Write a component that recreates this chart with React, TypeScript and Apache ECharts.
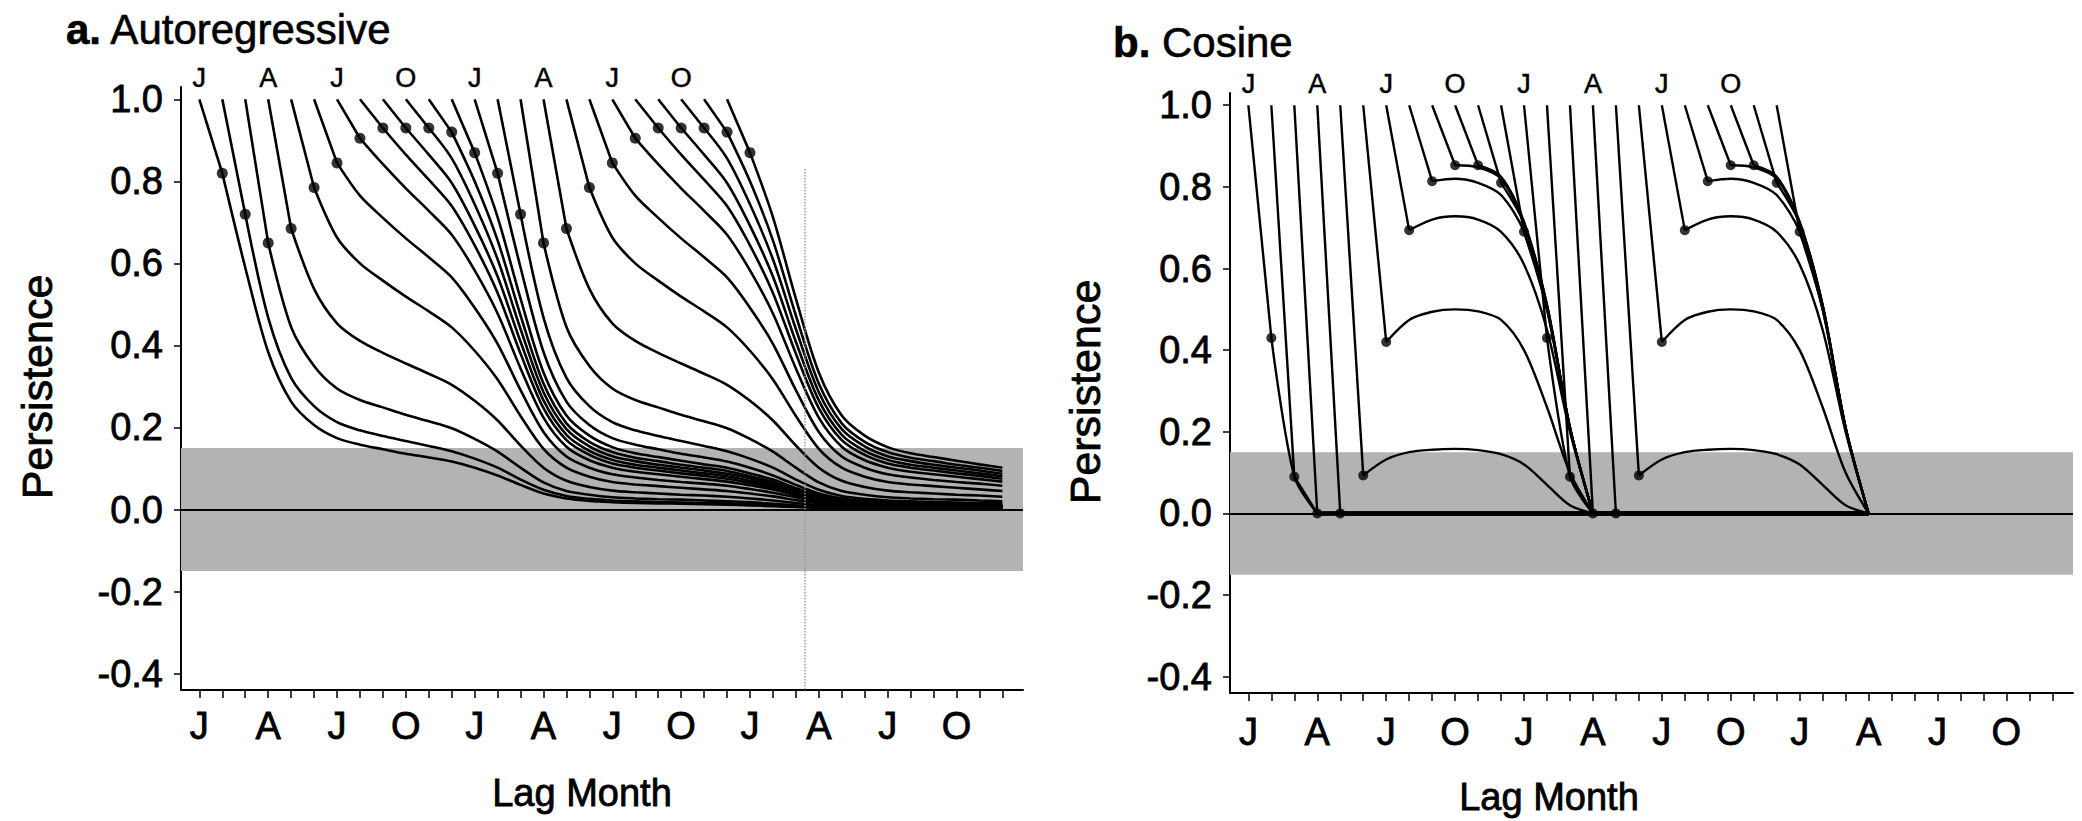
import React, { useEffect, useRef } from "react";
import * as echarts from "echarts";

// ---------- axis / label data ----------
const monthTicks = [1, 2, 3, 4, 5, 6, 7, 8, 9, 10, 11, 12, 13, 14, 15, 16, 17, 18, 19, 20, 21, 22, 23, 24, 25, 26, 27, 28, 29, 30, 31, 32, 33, 34, 35, 36];
const bottomTickMonths = [1, 4, 7, 10, 13, 16, 19, 22, 25, 28, 31, 34];
const bottomTickLabels = ["J", "A", "J", "O", "J", "A", "J", "O", "J", "A", "J", "O"];
const startLabelMonths = [1, 4, 7, 10, 13, 16, 19, 22];
const startLabels = ["J", "A", "J", "O", "J", "A", "J", "O"];
const yTickValues = [-0.4, -0.2, 0, 0.2, 0.4, 0.6, 0.8, 1.0];
const curveStartMonths = [1, 2, 3, 4, 5, 6, 7, 8, 9, 10, 11, 12, 13, 14, 15, 16, 17, 18, 19, 20, 21, 22, 23, 24];
const noiseBand = [-0.15, 0.15];
const arLastMonth = 36;
const cosLastMonth = 28;
const scanMarkMonth = 27.4;

// ---------- panel a: autoregressive persistence, by start month (lag 0, 1, 2, ...) ----------
const arJan = [1, 0.82, 0.59, 0.384, 0.263, 0.206, 0.174, 0.158, 0.147, 0.136, 0.127, 0.117, 0.102, 0.083, 0.06, 0.039, 0.027, 0.021, 0.018, 0.016, 0.015, 0.014, 0.013, 0.012, 0.01, 0.008, 0.006, 0.004, 0.003, 0.002, 0.002, 0.002, 0.001, 0.001, 0.001, 0.001];
const arFeb = [1, 0.72, 0.468, 0.321, 0.252, 0.213, 0.193, 0.179, 0.167, 0.155, 0.142, 0.124, 0.102, 0.073, 0.048, 0.033, 0.026, 0.022, 0.02, 0.018, 0.017, 0.016, 0.015, 0.013, 0.01, 0.007, 0.005, 0.003, 0.003, 0.002, 0.002, 0.002, 0.002, 0.002, 0.002];
const arMar = [1, 0.65, 0.445, 0.35, 0.295, 0.267, 0.249, 0.231, 0.215, 0.198, 0.172, 0.141, 0.102, 0.066, 0.045, 0.036, 0.03, 0.027, 0.025, 0.024, 0.022, 0.02, 0.018, 0.014, 0.01, 0.007, 0.005, 0.004, 0.003, 0.003, 0.003, 0.002, 0.002, 0.002];
const arApr = [1, 0.685, 0.538, 0.454, 0.411, 0.382, 0.356, 0.331, 0.304, 0.265, 0.217, 0.156, 0.102, 0.07, 0.055, 0.046, 0.042, 0.039, 0.036, 0.034, 0.031, 0.027, 0.022, 0.016, 0.01, 0.007, 0.006, 0.005, 0.004, 0.004, 0.004, 0.003, 0.003];
const arMay = [1, 0.785, 0.663, 0.6, 0.558, 0.519, 0.483, 0.444, 0.387, 0.317, 0.228, 0.148, 0.102, 0.08, 0.067, 0.061, 0.057, 0.053, 0.049, 0.045, 0.039, 0.032, 0.023, 0.015, 0.01, 0.008, 0.007, 0.006, 0.006, 0.005, 0.005, 0.005];
const arJun = [1, 0.845, 0.765, 0.711, 0.661, 0.615, 0.566, 0.492, 0.404, 0.291, 0.189, 0.129, 0.102, 0.086, 0.078, 0.072, 0.067, 0.063, 0.058, 0.05, 0.041, 0.03, 0.019, 0.013, 0.01, 0.009, 0.008, 0.007, 0.007, 0.006, 0.006];
const arJul = [1, 0.905, 0.842, 0.783, 0.728, 0.67, 0.583, 0.478, 0.344, 0.224, 0.153, 0.12, 0.102, 0.092, 0.086, 0.08, 0.074, 0.068, 0.059, 0.049, 0.035, 0.023, 0.016, 0.012, 0.01, 0.009, 0.009, 0.008, 0.008, 0.007];
const arAug = [1, 0.93, 0.865, 0.804, 0.74, 0.644, 0.528, 0.38, 0.247, 0.169, 0.133, 0.112, 0.102, 0.095, 0.088, 0.082, 0.075, 0.065, 0.054, 0.039, 0.025, 0.017, 0.014, 0.011, 0.01, 0.01, 0.009, 0.008, 0.008];
const arSep = [1, 0.93, 0.865, 0.796, 0.692, 0.568, 0.409, 0.266, 0.182, 0.143, 0.121, 0.109, 0.102, 0.095, 0.088, 0.081, 0.07, 0.058, 0.042, 0.027, 0.019, 0.015, 0.012, 0.011, 0.01, 0.01, 0.009, 0.008];
const arOct = [1, 0.93, 0.856, 0.744, 0.61, 0.44, 0.286, 0.196, 0.154, 0.13, 0.118, 0.109, 0.102, 0.095, 0.087, 0.076, 0.062, 0.045, 0.029, 0.02, 0.016, 0.013, 0.012, 0.011, 0.01, 0.01, 0.009];
const arNov = [1, 0.92, 0.8, 0.656, 0.473, 0.307, 0.21, 0.165, 0.14, 0.126, 0.118, 0.109, 0.102, 0.094, 0.081, 0.067, 0.048, 0.031, 0.021, 0.017, 0.014, 0.013, 0.012, 0.011, 0.01, 0.01];
const arDec = [1, 0.87, 0.713, 0.514, 0.334, 0.229, 0.18, 0.152, 0.137, 0.128, 0.119, 0.11, 0.102, 0.088, 0.073, 0.052, 0.034, 0.023, 0.018, 0.015, 0.014, 0.013, 0.012, 0.011, 0.01];
const arProfiles = [arJan, arFeb, arMar, arApr, arMay, arJun, arJul, arAug, arSep, arOct, arNov, arDec];

// ---------- panel b: cosine persistence, by start month (lag 0, 1, 2, ...) ----------
const cosJan = [1, 0.43, 0.09, 0];
const cosFeb = [1, 0.09, 0];
const cosMar = [1, 0];
const cosApr = [1, 0];
const cosMay = [1, 0.093, 0.132, 0.15, 0.156, 0.158, 0.155, 0.145, 0.12, 0.07, 0.02, 0];
const cosJun = [1, 0.42, 0.474, 0.494, 0.5, 0.495, 0.474, 0.4, 0.26, 0.1, 0];
const cosJul = [1, 0.694, 0.72, 0.728, 0.72, 0.69, 0.61, 0.45, 0.2, 0];
const cosAug = [1, 0.814, 0.82, 0.81, 0.78, 0.69, 0.5, 0.21, 0];
const cosSep = [1, 0.853, 0.848, 0.82, 0.71, 0.51, 0.21, 0];
const cosOct = [1, 0.853, 0.825, 0.715, 0.51, 0.21, 0];
const cosNov = [1, 0.81, 0.71, 0.51, 0.21, 0];
const cosDec = [1, 0.69, 0.5, 0.21, 0];
const cosProfiles = [cosJan, cosFeb, cosMar, cosApr, cosMay, cosJun, cosJul, cosAug, cosSep, cosOct, cosNov, cosDec];

const FONT = "'Liberation Sans', Arial, Helvetica, sans-serif";
const HEAVY = { textBorderColor: "#000", textBorderWidth: 0.8 };

function buildCurves(profiles: number[][], gridIdx: number, lastMonth: number, flatEnd: number | null, dotSize: number, lw: number) {
  const xi = gridIdx * 2;
  const yi = gridIdx;
  const out: any[] = [];
  const dots: number[][] = [];
  const base = {
    type: "line",
    xAxisIndex: xi,
    yAxisIndex: yi,
    symbol: "none",
    silent: true,
    z: 3,
    lineStyle: { color: "#000", width: lw },
  };
  curveStartMonths.forEach((s) => {
    const prof = profiles[(s - 1) % 12];
    const pts: number[][] = [];
    for (let i = 0; i < prof.length && s + i <= lastMonth; i++) pts.push([s + i, prof[i]]);
    out.push({ ...base, data: pts.slice(0, 2) });
    if (pts.length > 2) out.push({ ...base, data: pts.slice(1), smooth: 0.3 });
    dots.push(pts[1]);
    if (flatEnd !== null) {
      const last = pts[pts.length - 1];
      if (last[1] === 0 && last[0] < flatEnd) {
        out.push({ ...base, data: [last, [flatEnd, 0]], lineStyle: { color: "#000", width: 4 } });
      }
    }
  });
  out.push({
    type: "scatter",
    xAxisIndex: xi,
    yAxisIndex: yi,
    data: dots,
    symbol: "circle",
    symbolSize: dotSize,
    itemStyle: { color: "#000" },
    silent: true,
    z: 4,
  });
  return out;
}

function bandSeries(gridIdx: number, withScanMark: boolean) {
  const lines: any[] = [{ yAxis: 0 }];
  if (withScanMark) {
    lines.push([
      { coord: [scanMarkMonth, 0.83], lineStyle: { type: "dotted", color: "#999", width: 1.5 } },
      { coord: [scanMarkMonth, -0.44] },
    ]);
  }
  return {
    type: "line",
    xAxisIndex: gridIdx * 2,
    yAxisIndex: gridIdx,
    data: [],
    silent: true,
    z: 1,
    markArea: {
      silent: true,
      itemStyle: { color: "#b3b3b3" },
      data: [[{ yAxis: noiseBand[1] }, { yAxis: noiseBand[0] }]],
    },
    markLine: {
      silent: true,
      symbol: ["none", "none"],
      label: { show: false },
      lineStyle: { color: "#000", width: 2, type: "solid" },
      data: lines,
    },
  };
}

function xAxesFor(gridIdx: number, bottomMargin: number) {
  return [
    {
      gridIndex: gridIdx,
      type: "value",
      position: "bottom",
      min: 0.2,
      max: 36.9,
      axisLine: { show: true, onZero: false, lineStyle: { color: "#000", width: 2 } },
      axisTick: { show: true, customValues: monthTicks, length: 8, lineStyle: { color: "#000", width: 1.5 } },
      axisLabel: {
        customValues: bottomTickMonths,
        formatter: (v: number) => bottomTickLabels[bottomTickMonths.indexOf(v)] ?? "",
        fontSize: 38,
        fontFamily: FONT,
        color: "#000",
        margin: bottomMargin,
        ...HEAVY,
      },
      splitLine: { show: false },
    },
    {
      gridIndex: gridIdx,
      type: "value",
      position: "top",
      min: 0.2,
      max: 36.9,
      axisLine: { show: false, onZero: false },
      axisTick: { show: false },
      axisLabel: {
        customValues: startLabelMonths,
        formatter: (v: number) => startLabels[startLabelMonths.indexOf(v)] ?? "",
        fontSize: 27,
        fontFamily: FONT,
        color: "#000",
        margin: -4,
        textBorderColor: "#000",
        textBorderWidth: 0.5,
      },
      splitLine: { show: false },
    },
  ];
}

function yAxisFor(gridIdx: number) {
  return {
    gridIndex: gridIdx,
    type: "value",
    min: -0.44,
    max: 1.03,
    axisLine: { show: true, onZero: false, lineStyle: { color: "#000", width: 2 } },
    axisTick: { show: true, customValues: yTickValues, length: 7, lineStyle: { color: "#000", width: 1.5 } },
    axisLabel: {
      customValues: yTickValues,
      formatter: (v: number) => v.toFixed(1),
      fontSize: 38,
      fontFamily: FONT,
      color: "#000",
      margin: 18,
      ...HEAVY,
    },
    splitLine: { show: false },
  };
}

function axisNameText(text: string, x: number, y: number, rotate: boolean, size: number) {
  return {
    type: "text",
    x,
    y,
    rotation: rotate ? Math.PI / 2 : 0,
    silent: true,
    style: {
      text,
      fill: "#000",
      stroke: "#000",
      lineWidth: 0.8,
      fontSize: size,
      fontFamily: FONT,
      align: "center",
      verticalAlign: "middle",
    },
  };
}

function titleFor(label: string, rest: string, left: number, top: number) {
  return {
    text: "{b|" + label + "}" + rest,
    left,
    top,
    padding: 0,
    textStyle: {
      fontSize: 42,
      fontFamily: FONT,
      fontWeight: "normal",
      color: "#000",
      textBorderColor: "#000",
      textBorderWidth: 0.6,
      rich: { b: { fontSize: 42, fontFamily: FONT, fontWeight: "bold", color: "#000", textBorderColor: "#000", textBorderWidth: 0.6 } },
    },
  };
}

export default function App() {
  const ref = useRef<HTMLDivElement>(null);
  useEffect(() => {
    if (!ref.current) return;
    const chart = echarts.init(ref.current, null, { renderer: "svg" });
    const option: any = {
      animation: false,
      backgroundColor: "#fff",
      title: [titleFor("a.", " Autoregressive", 66, 8), titleFor("b.", " Cosine", 1113, 21)],
      grid: [
        { left: 181, top: 87, width: 842, height: 603, containLabel: false },
        { left: 1230, top: 93, width: 843, height: 600, containLabel: false },
      ],
      xAxis: [...xAxesFor(0, 17), ...xAxesFor(1, 20)],
      yAxis: [yAxisFor(0), yAxisFor(1)],
      graphic: [
        axisNameText("Lag Month", 582, 793, false, 38),
        axisNameText("Lag Month", 1549, 797, false, 38),
        axisNameText("Persistence", 37, 387, true, 43),
        axisNameText("Persistence", 1085, 392, true, 43),
      ],
      series: [
        bandSeries(0, true),
        bandSeries(1, false),
        ...buildCurves(arProfiles, 0, arLastMonth, null, 11, 2.6),
        ...buildCurves(cosProfiles, 1, cosLastMonth, cosLastMonth, 10, 2.4),
      ],
    };
    chart.setOption(option);
    return () => chart.dispose();
  }, []);
  return (
    <div
      ref={ref}
      style={{ position: "absolute", left: 0, top: 0, width: 2082, height: 821, background: "#fff" }}
    />
  );
}
